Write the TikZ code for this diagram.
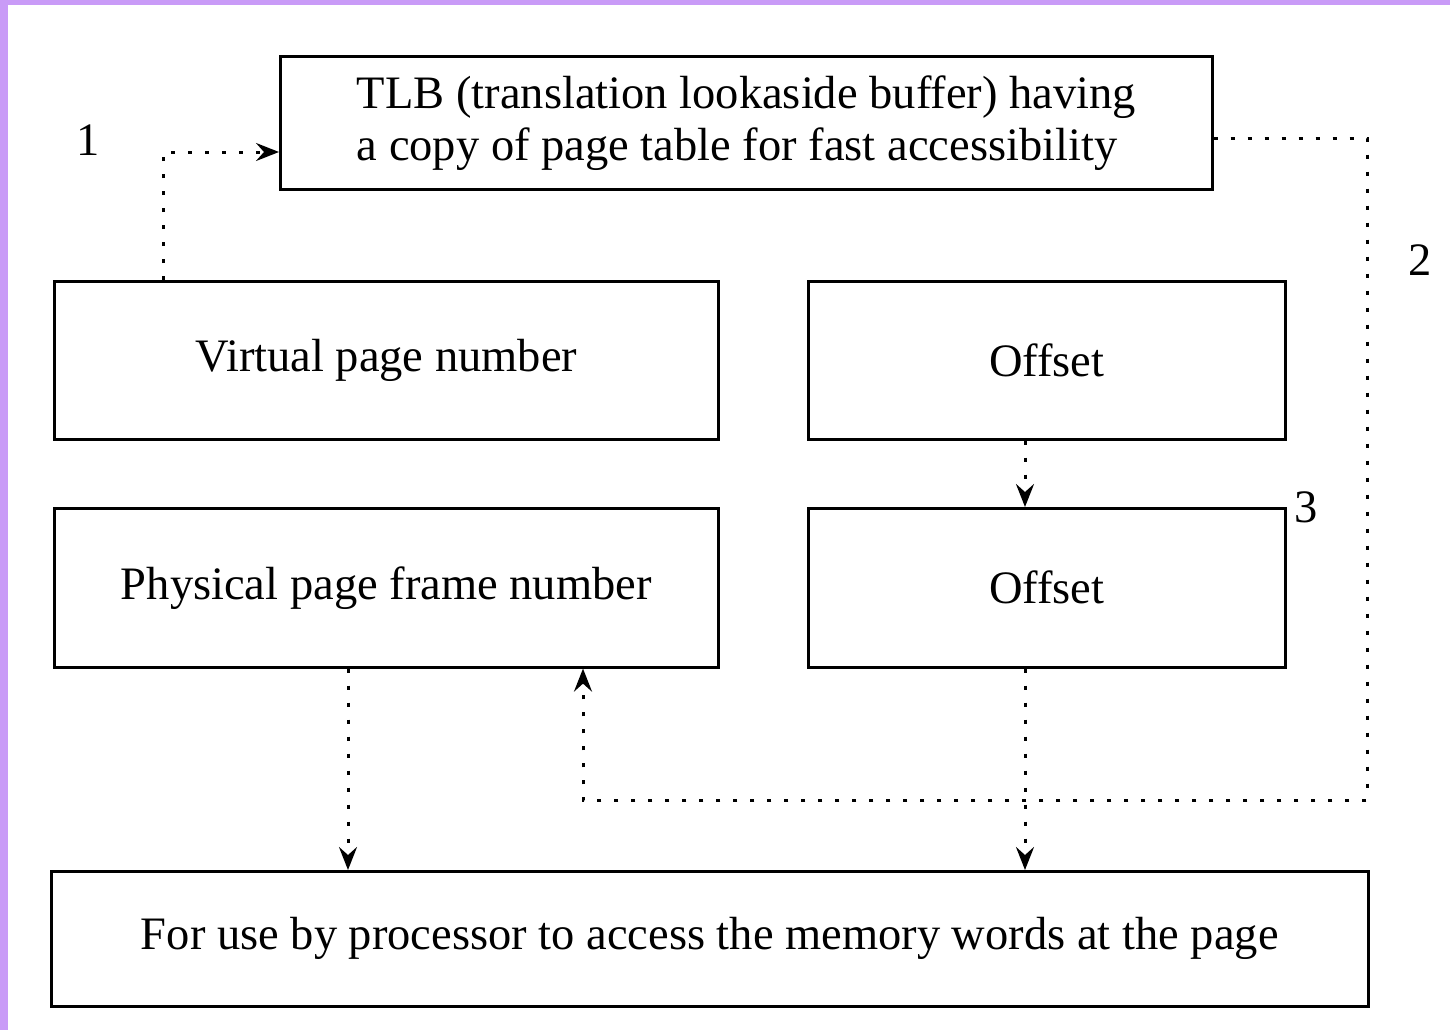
\documentclass[tikz,border=0pt]{standalone}
\usepackage{fontspec}
\setmainfont{Liberation Serif}
\usetikzlibrary{arrows.meta}
\definecolor{frame}{HTML}{C99BF7}
\begin{document}
\begin{tikzpicture}[x=1pt,y=-1pt,
  box/.style={draw,line width=2.6pt,inner sep=0pt,minimum height=#1,anchor=north west},
  link/.style={line width=3pt,dash pattern=on 4pt off 13pt,-{Stealth[length=23pt,width=18pt,inset=8pt]}},
  lbl/.style={font=\fontsize{46.5}{52}\selectfont}]
\useasboundingbox (0,0) rectangle (1450,1030);
\fill[white] (0,0) rectangle (1450,1030);
\fill[frame] (0,0) rectangle (1450,5);
\fill[frame] (0,0) rectangle (8,1030);
\node[box=133pt,minimum width=932pt,align=left,lbl] (tlb) at (279,55)
  {TLB (translation lookaside buffer) having\\a copy of page table for fast accessibility};
\node[box=158pt,minimum width=664pt,lbl] (vpn) at (53,280) {Virtual page number};
\node[box=158pt,minimum width=477pt,lbl] (off1) at (807,280) {Offset};
\node[box=159pt,minimum width=664pt,lbl] (ppfn) at (53,507) {Physical page frame number};
\node[box=159pt,minimum width=477pt,lbl] (off2) at (807,507) {Offset};
\node[box=135pt,minimum width=1317pt,lbl] (use) at (50,870) {For use by processor to access the memory words at the page};
\node[lbl] (n1) at (88,140) {1};
\node[lbl] (n2) at (1420,260) {2};
\node[lbl] (n3) at (1306,507) {3};
\coordinate (c1) at (163,152);
\coordinate (c2a) at (1367,138);
\coordinate (c2b) at (1367,800);
\coordinate (c2c) at (583,800);
\draw[link] (vpn.north west -| c1) -- (c1) -- (tlb.west |- c1);
\draw[link] (tlb.east |- c2a) -- (c2a) -- (c2b) -- (c2c) -- (ppfn.south -| c2c);
\draw[link] (off1.south -| 1025,0) -- (off2.north -| 1025,0);
\draw[link] (ppfn.south -| 348,0) -- (use.north -| 348,0);
\draw[link] (off2.south -| 1025,0) -- (use.north -| 1025,0);
\end{tikzpicture}
\end{document}
